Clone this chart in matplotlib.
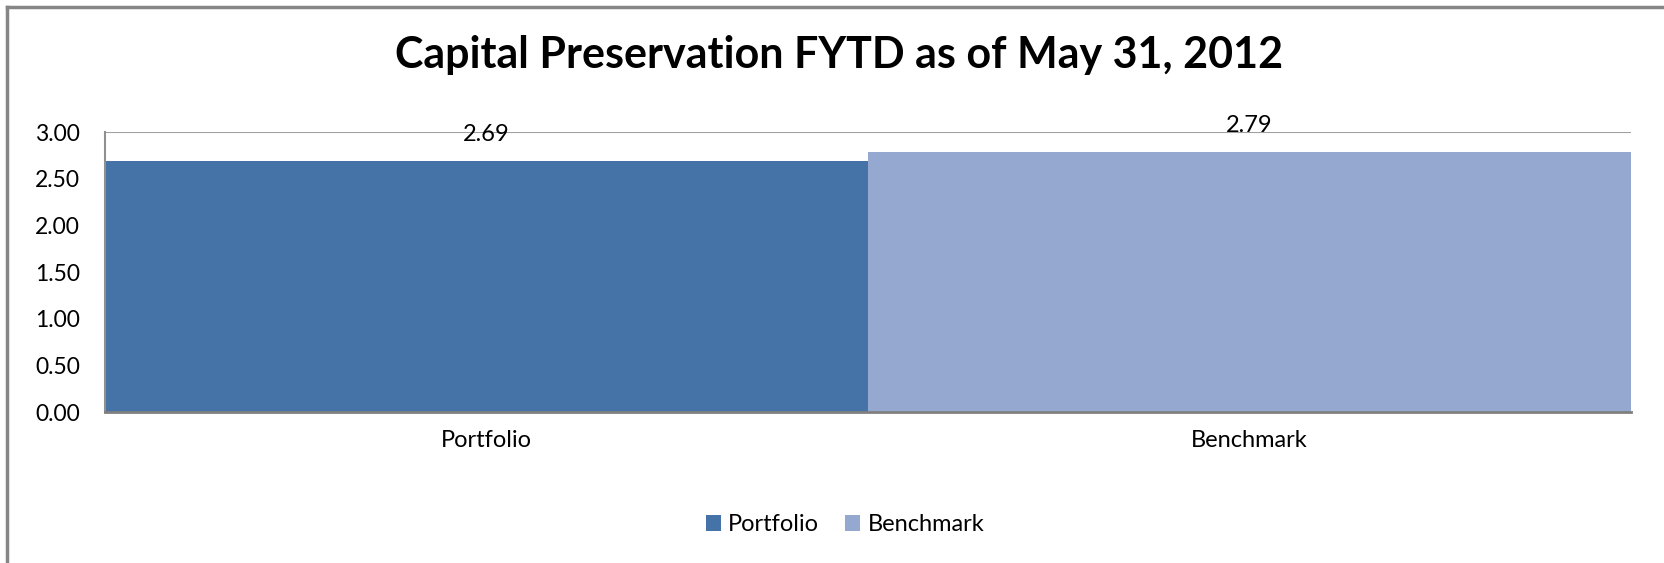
import matplotlib
matplotlib.use('Agg')
import matplotlib.pyplot as plt
from matplotlib.lines import Line2D
from matplotlib.patches import Patch

categories = ['Portfolio', 'Benchmark']
values = [2.69, 2.79]
colors = ['#4573A7', '#95A9D0']
title = 'Capital Preservation FYTD as of May 31, 2012'
yticks = [0.0, 0.5, 1.0, 1.5, 2.0, 2.5, 3.0]

plt.rcParams['font.family'] = ['Lato', 'DejaVu Sans']

fig = plt.figure(figsize=(16.65, 5.63), dpi=100)
ax = fig.add_axes([0.0631, 0.2682, 0.9796 - 0.0631, 0.7655 - 0.2682])

x = range(len(categories))
bars = ax.bar(x, values, width=1.0, color=colors, zorder=2)

for b, v in zip(bars, values):
    ax.annotate('%.2f' % v, (b.get_x() + b.get_width() / 2, v),
                xytext=(0, 19), textcoords='offset points',
                ha='center', va='center', fontsize=17, color='black')

ax.set_xlim(-0.5, 1.5)
ax.set_ylim(0, 3.0)
ax.set_yticks(yticks)
ax.set_yticklabels(['%.2f' % t for t in yticks], fontsize=16.5)
ax.set_xticks(list(x))
ax.set_xticklabels(categories, fontsize=17)
ax.tick_params(axis='both', length=0)
ax.tick_params(axis='y', pad=18)
ax.tick_params(axis='x', pad=13)

ax.yaxis.grid(True, color='#A0A0A0', linewidth=1.5, zorder=0)
ax.set_axisbelow(True)
for s in ['top', 'right']:
    ax.spines[s].set_visible(False)
ax.spines['left'].set_color('#909090')
ax.spines['left'].set_linewidth(1.5)
ax.spines['bottom'].set_color('#808080')
ax.spines['bottom'].set_linewidth(2)

fig.text(0.504, 0.902, title, ha='center', va='center', fontsize=31, fontweight='bold')

handles = [Patch(facecolor=c, edgecolor='none') for c in colors]
fig.legend(handles, categories, loc='center', bbox_to_anchor=(0.5075, 0.0675),
           ncol=2, frameon=False, fontsize=17, handlelength=0.65, handleheight=0.65,
           handletextpad=0.3, columnspacing=1.1)

# outer chart border (left and top only visible in the crop)
fig.add_artist(Line2D([7 / 1665, 7 / 1665], [0, 1 - 7 / 563], color='#868686', linewidth=2.5,
                      transform=fig.transFigure))
fig.add_artist(Line2D([7 / 1665, 1], [1 - 7 / 563, 1 - 7 / 563], color='#868686', linewidth=2.5,
                      transform=fig.transFigure))

fig.savefig('out.png', dpi=100)
